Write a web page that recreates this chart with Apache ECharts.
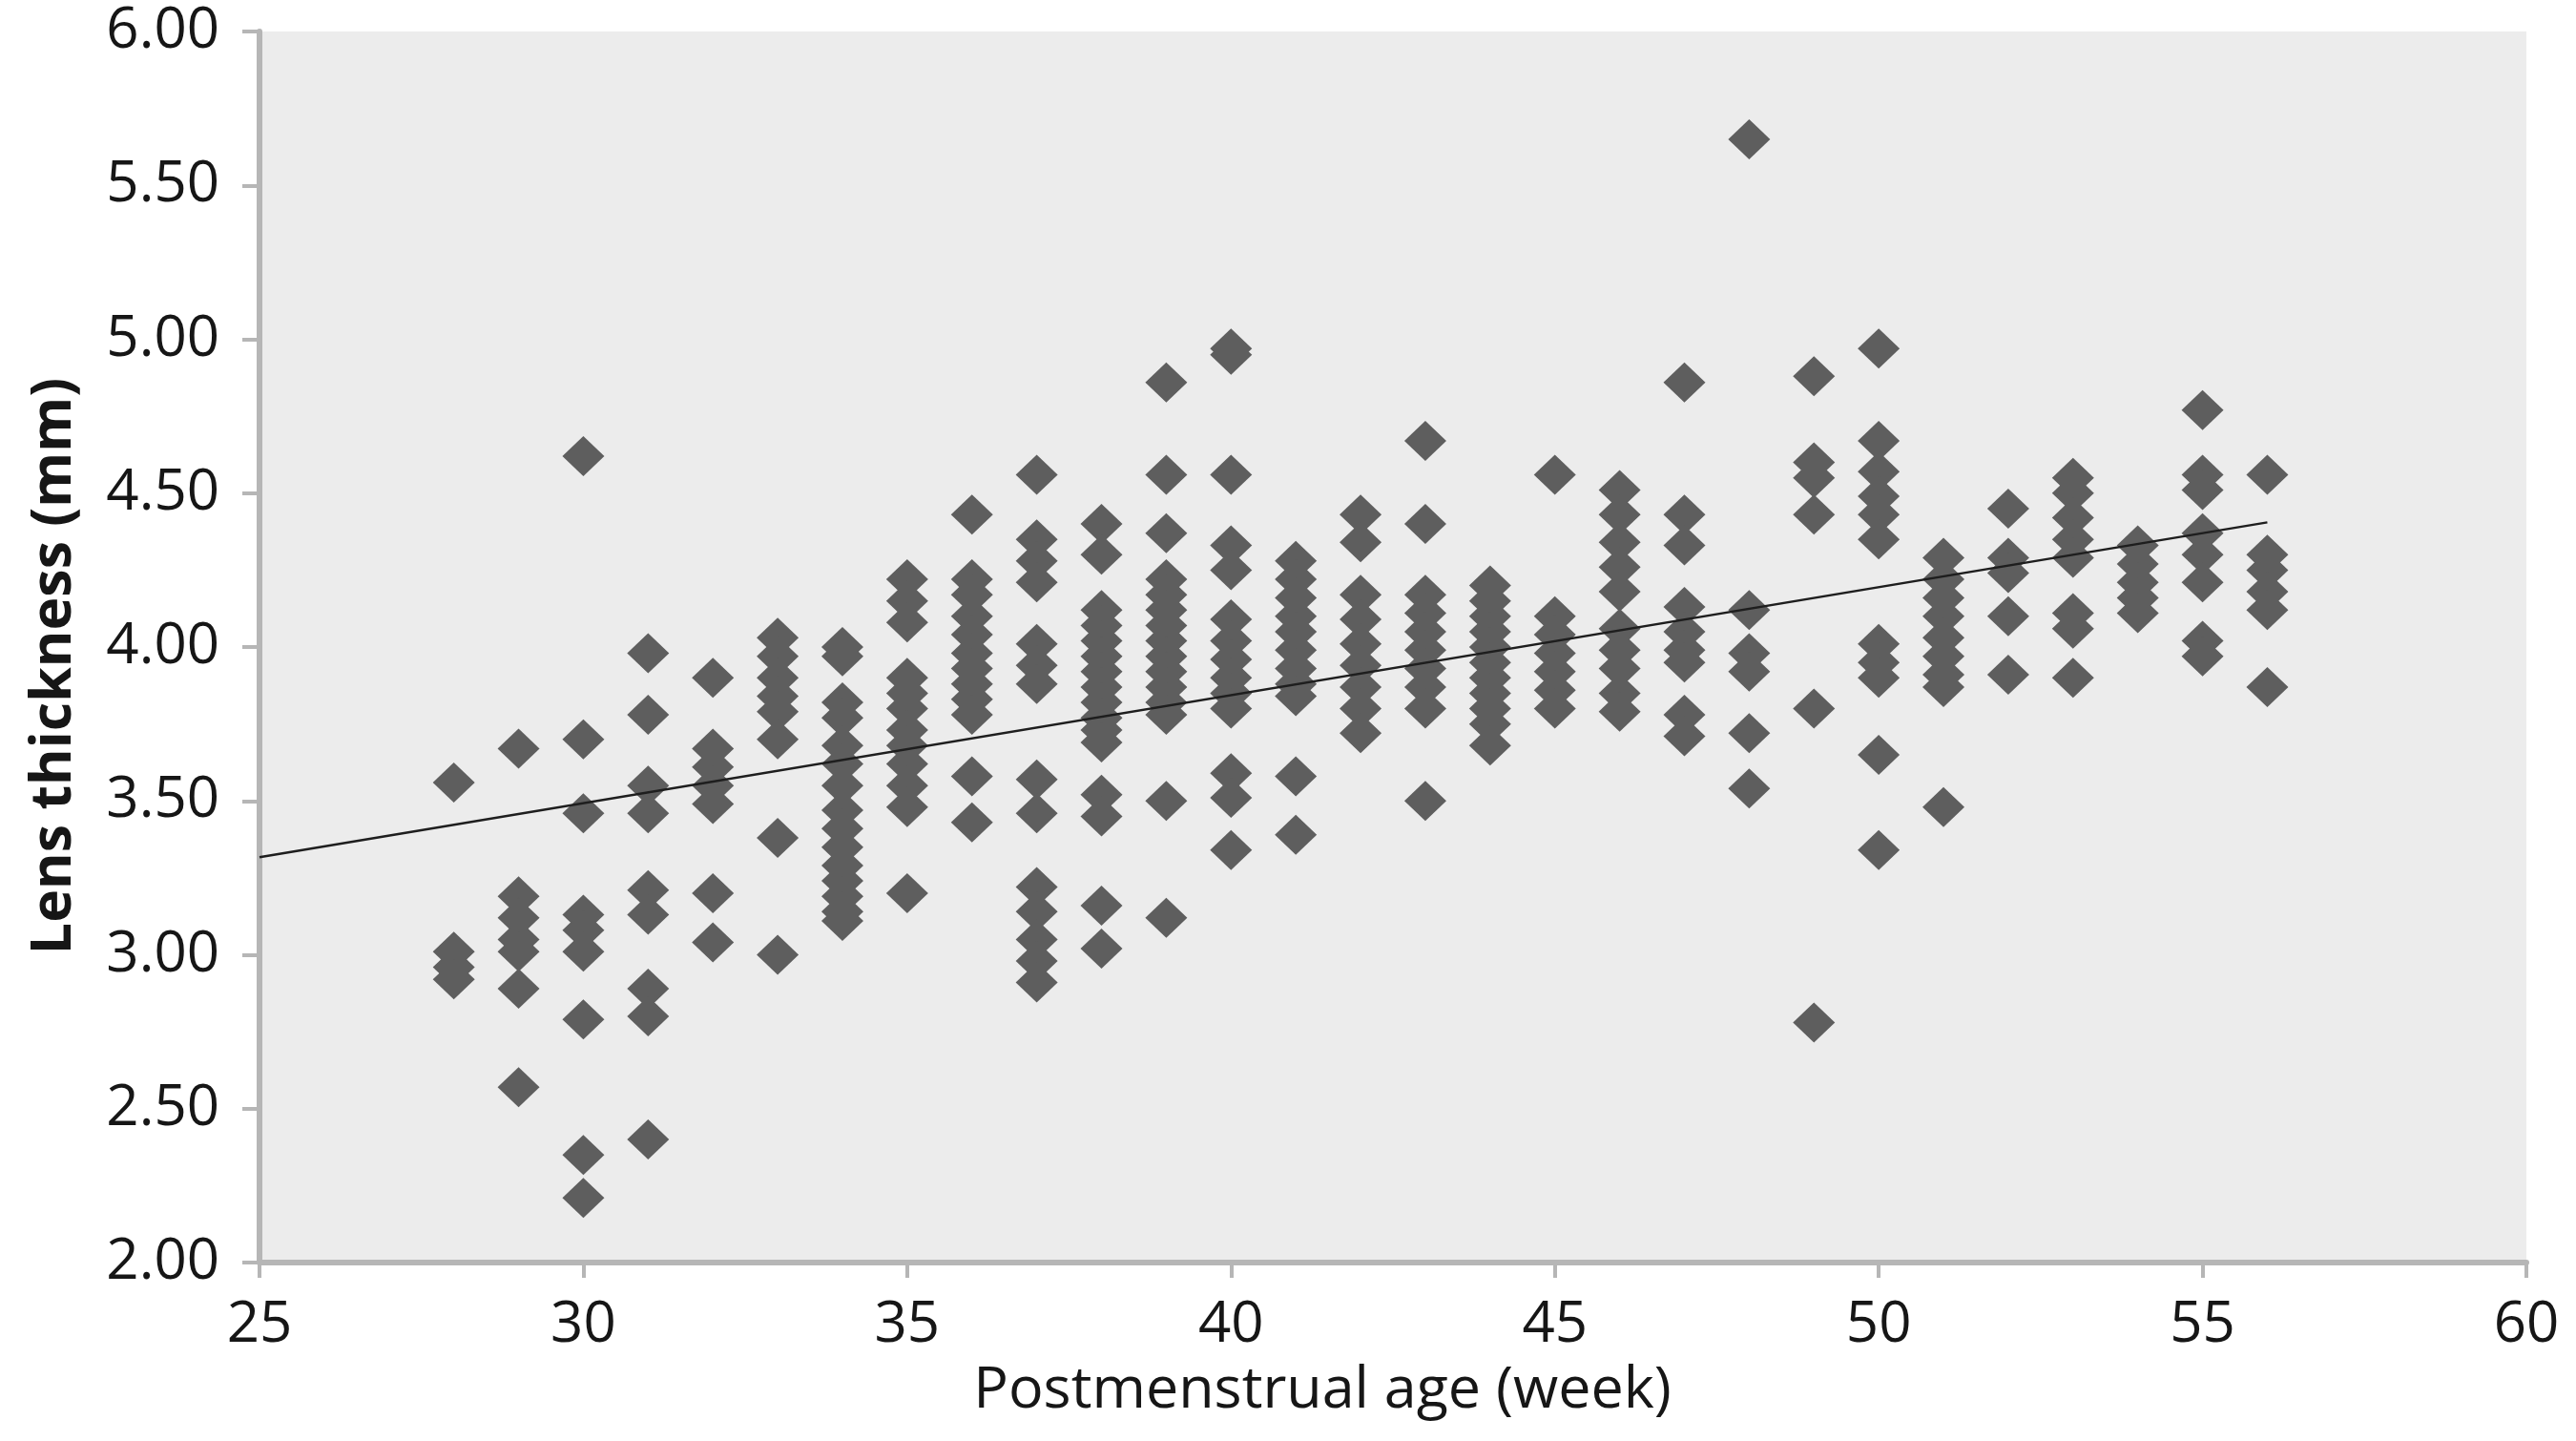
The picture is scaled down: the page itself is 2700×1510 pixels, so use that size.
<!DOCTYPE html>
<html>
<head>
<meta charset="utf-8">
<script src="https://cdn.jsdelivr.net/npm/echarts@6/dist/echarts.min.js"></script>
<style>
  html, body { margin: 0; padding: 0; background: #ffffff; }
  #chart { width: 2700px; height: 1510px; }
</style>
</head>
<body>
<div id="chart"></div>
<script>
// Postmenstrual age (weeks) for each column of points
const weeks = [28, 29, 30, 31, 32, 33, 34, 35, 36, 37, 38, 39, 40, 41, 42,
               43, 44, 45, 46, 47, 48, 49, 50, 51, 52, 53, 54, 55, 56];

// Lens thickness (mm) observations per week (same order as weeks)
const w28 = [3.56, 3.01, 2.96, 2.92];
const w29 = [3.67, 3.19, 3.12, 3.05, 3.01, 2.89, 2.57];
const w30 = [4.62, 3.70, 3.46, 3.13, 3.08, 3.01, 2.79, 2.35, 2.21];
const w31 = [3.98, 3.78, 3.55, 3.46, 3.21, 3.13, 2.89, 2.80, 2.40];
const w32 = [3.90, 3.67, 3.61, 3.55, 3.49, 3.20, 3.04];
const w33 = [4.03, 3.97, 3.90, 3.84, 3.79, 3.70, 3.38, 3.00];
const w34 = [4.00, 3.97, 3.82, 3.77, 3.68, 3.62, 3.55, 3.47, 3.41, 3.35, 3.29, 3.24, 3.19, 3.14, 3.11];
const w35 = [4.22, 4.15, 4.08, 3.90, 3.85, 3.80, 3.73, 3.68, 3.62, 3.55, 3.48, 3.20];
const w36 = [4.43, 4.22, 4.17, 4.10, 4.04, 3.98, 3.93, 3.88, 3.83, 3.78, 3.58, 3.43];
const w37 = [4.56, 4.35, 4.28, 4.21, 4.01, 3.94, 3.88, 3.57, 3.46, 3.22, 3.14, 3.05, 2.98, 2.91];
const w38 = [4.40, 4.30, 4.12, 4.07, 4.02, 3.97, 3.92, 3.87, 3.82, 3.77, 3.73, 3.69, 3.52, 3.45, 3.16, 3.02];
const w39 = [4.86, 4.56, 4.37, 4.22, 4.17, 4.12, 4.07, 4.02, 3.97, 3.92, 3.87, 3.82, 3.78, 3.50, 3.12];
const w40 = [4.97, 4.95, 4.56, 4.33, 4.25, 4.09, 4.02, 3.96, 3.90, 3.85, 3.80, 3.59, 3.51, 3.34];
const w41 = [4.28, 4.22, 4.16, 4.10, 4.05, 3.99, 3.93, 3.88, 3.84, 3.58, 3.39];
const w42 = [4.43, 4.34, 4.17, 4.09, 4.01, 3.94, 3.87, 3.80, 3.72];
const w43 = [4.67, 4.40, 4.17, 4.11, 4.05, 3.99, 3.93, 3.87, 3.80, 3.50];
const w44 = [4.20, 4.15, 4.10, 4.05, 4.00, 3.95, 3.90, 3.85, 3.80, 3.75, 3.68];
const w45 = [4.56, 4.10, 4.04, 3.98, 3.92, 3.86, 3.80];
const w46 = [4.51, 4.43, 4.34, 4.26, 4.18, 4.06, 3.99, 3.93, 3.85, 3.79];
const w47 = [4.86, 4.43, 4.33, 4.13, 4.05, 3.99, 3.95, 3.78, 3.71];
const w48 = [5.65, 4.12, 3.98, 3.92, 3.72, 3.54];
const w49 = [4.88, 4.60, 4.55, 4.43, 3.80, 2.78];
const w50 = [4.97, 4.67, 4.57, 4.49, 4.43, 4.35, 4.01, 3.95, 3.90, 3.65, 3.34];
const w51 = [4.29, 4.22, 4.16, 4.10, 4.03, 3.97, 3.91, 3.87, 3.48];
const w52 = [4.45, 4.29, 4.24, 4.10, 3.91];
const w53 = [4.55, 4.50, 4.42, 4.35, 4.29, 4.11, 4.06, 3.90];
const w54 = [4.33, 4.27, 4.21, 4.16, 4.11];
const w55 = [4.77, 4.56, 4.51, 4.37, 4.30, 4.21, 4.02, 3.97];
const w56 = [4.56, 4.30, 4.25, 4.18, 4.12, 3.87];

const thicknessByWeek = [w28, w29, w30, w31, w32, w33, w34, w35, w36, w37, w38, w39, w40, w41, w42,
                         w43, w44, w45, w46, w47, w48, w49, w50, w51, w52, w53, w54, w55, w56];

// Linear trend line end points
const trendX = [25, 56];
const trendY = [3.317, 4.405];

// Axis ticks
const xTicks = [25, 30, 35, 40, 45, 50, 55, 60];
const yTicks = [2.00, 2.50, 3.00, 3.50, 4.00, 4.50, 5.00, 5.50, 6.00];

const points = [];
weeks.forEach((w, i) => {
  thicknessByWeek[i].forEach(v => points.push([w, v]));
});
const trend = trendX.map((x, i) => [x, trendY[i]]);

const axisColor = '#b6b6b6';
const textColor = '#161616';
const font = 'Open Sans';

const chart = echarts.init(document.getElementById('chart'), null, { renderer: 'canvas' });
chart.setOption({
  animation: false,
  backgroundColor: '#ffffff',
  grid: {
    left: 272, right: 52, top: 33, bottom: 187,
    show: true, backgroundColor: '#ececec', borderWidth: 0
  },
  xAxis: {
    type: 'value',
    min: xTicks[0], max: xTicks[xTicks.length - 1], interval: 5,
    name: 'Postmenstrual age (week)',
    nameLocation: 'middle',
    nameGap: 104,
    nameTextStyle: { fontFamily: font, fontSize: 61, color: textColor, padding: [0, 148, 0, 0] },
    axisLine: { show: true, onZero: false, lineStyle: { color: axisColor, width: 6 } },
    axisTick: { show: true, inside: false, length: 16, lineStyle: { color: axisColor, width: 4 } },
    axisLabel: { fontFamily: font, fontSize: 60, color: textColor, margin: 36, showMinLabel: true, showMaxLabel: true },
    splitLine: { show: false }
  },
  yAxis: {
    type: 'value',
    min: yTicks[0], max: yTicks[yTicks.length - 1], interval: 0.5,
    name: 'Lens thickness (mm)',
    nameLocation: 'middle',
    nameGap: 185,
    nameTextStyle: { fontFamily: font, fontSize: 59, fontWeight: 'bold', color: textColor, padding: [0, 40, 0, 0] },
    axisLine: { show: true, onZero: false, lineStyle: { color: axisColor, width: 6 } },
    axisTick: { show: true, inside: false, length: 18, lineStyle: { color: axisColor, width: 4 } },
    axisLabel: { fontFamily: font, fontSize: 60, color: textColor, margin: 42,
                 formatter: v => Number(v).toFixed(2), showMinLabel: true, showMaxLabel: true },
    splitLine: { show: false }
  },
  series: [
    {
      type: 'scatter',
      data: points,
      symbol: 'diamond',
      symbolSize: [44, 42],
      itemStyle: { color: '#5e5e5e', opacity: 1 },
      z: 2
    },
    {
      type: 'line',
      data: trend,
      symbol: 'none',
      lineStyle: { color: '#1e1e1e', width: 2.5 },
      z: 3
    }
  ]
});
</script>
</body>
</html>
